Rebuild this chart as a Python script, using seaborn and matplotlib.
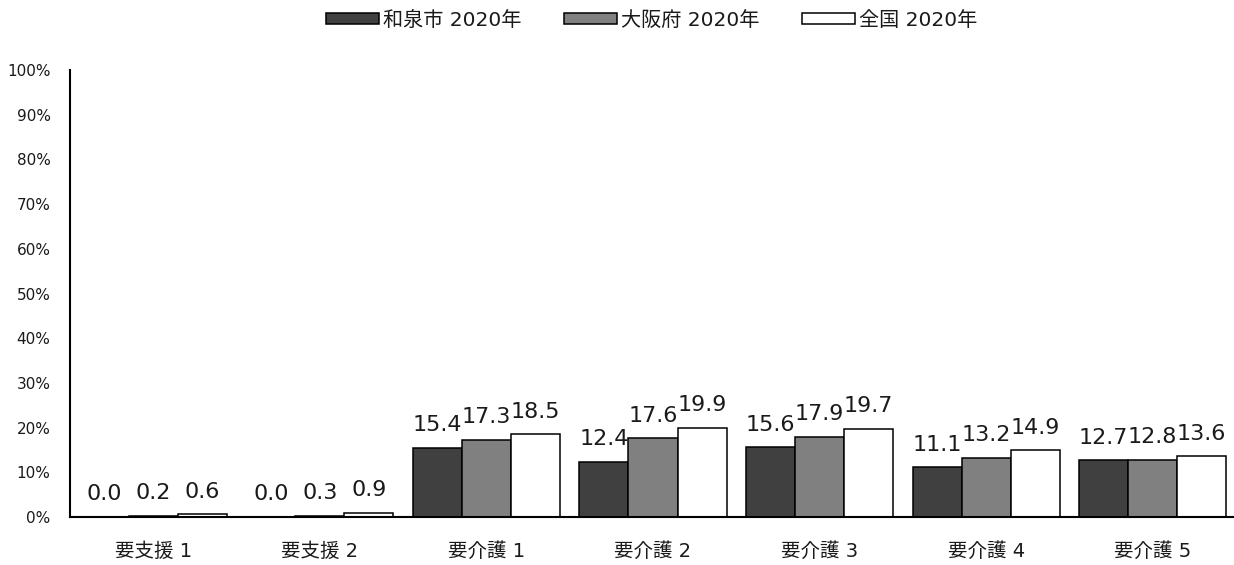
import matplotlib
matplotlib.use("Agg")
import matplotlib.pyplot as plt
import seaborn as sns
import pandas as pd
from matplotlib.ticker import FuncFormatter

categories = ["要支援 1", "要支援 2", "要介護 1", "要介護 2", "要介護 3", "要介護 4", "要介護 5"]
series_names = ["和泉市 2020年", "大阪府 2020年", "全国 2020年"]
izumi = [0.0, 0.0, 15.4, 12.4, 15.6, 11.1, 12.7]
osaka = [0.2, 0.3, 17.3, 17.6, 17.9, 13.2, 12.8]
national = [0.6, 0.9, 18.5, 19.9, 19.7, 14.9, 13.6]
y_ticks = list(range(0, 101, 10))

colors = ["#404040", "#808080", "#ffffff"]

sns.set_theme(style="white")
plt.rcParams["font.family"] = ["DejaVu Sans", "Noto Sans CJK JP"]

rows = []
for name, vals in zip(series_names, [izumi, osaka, national]):
    for cat, v in zip(categories, vals):
        rows.append({"区分": cat, "系列": name, "割合": v})
df = pd.DataFrame(rows)

fig = plt.figure(figsize=(12.34, 5.65), dpi=100)
ax = fig.add_axes([70 / 1234, 48 / 565, 1166 / 1234, 447 / 565])

sns.barplot(data=df, x="区分", y="割合", hue="系列", order=categories,
            hue_order=series_names, palette=colors, width=0.883, gap=0,
            edgecolor="black", linewidth=1.1, errorbar=None, ax=ax)

handles, labels = ax.get_legend_handles_labels()
ax.get_legend().remove()

for container in ax.containers:
    for bar in container:
        h = bar.get_height()
        ax.annotate(f"{h:.1f}", xy=(bar.get_x() + bar.get_width() / 2, h),
                    xytext=(0, 12), textcoords="offset points",
                    ha="center", va="baseline", fontsize=16, color="#1a1a1a")

ax.set_ylim(0, 100)
ax.set_xlim(-0.5, len(categories) - 0.5)
ax.set_yticks(y_ticks)
ax.yaxis.set_major_formatter(FuncFormatter(lambda v, p: f"{v:.0f}%"))
ax.set_xlabel("")
ax.set_ylabel("")
ax.tick_params(axis="y", length=0, pad=14, labelsize=11, labelcolor="#1a1a1a")
ax.tick_params(axis="x", length=0, pad=18, labelsize=14, labelcolor="#1a1a1a")

for side in ["top", "right"]:
    ax.spines[side].set_visible(False)
for side in ["left", "bottom"]:
    ax.spines[side].set_color("black")
    ax.spines[side].set_linewidth(1.5)
ax.grid(False)

fig.legend(handles, labels, loc="center", bbox_to_anchor=(0.528, 1 - 20 / 565),
           ncol=3, frameon=False, handlelength=2.64,
           handleheight=0.42, handletextpad=0.2, columnspacing=2.1,
           labelcolor="#1a1a1a",
           prop={"family": ["DejaVu Sans", "Noto Sans CJK JP"], "size": 14.5})

fig.savefig("out.png", dpi=100)
